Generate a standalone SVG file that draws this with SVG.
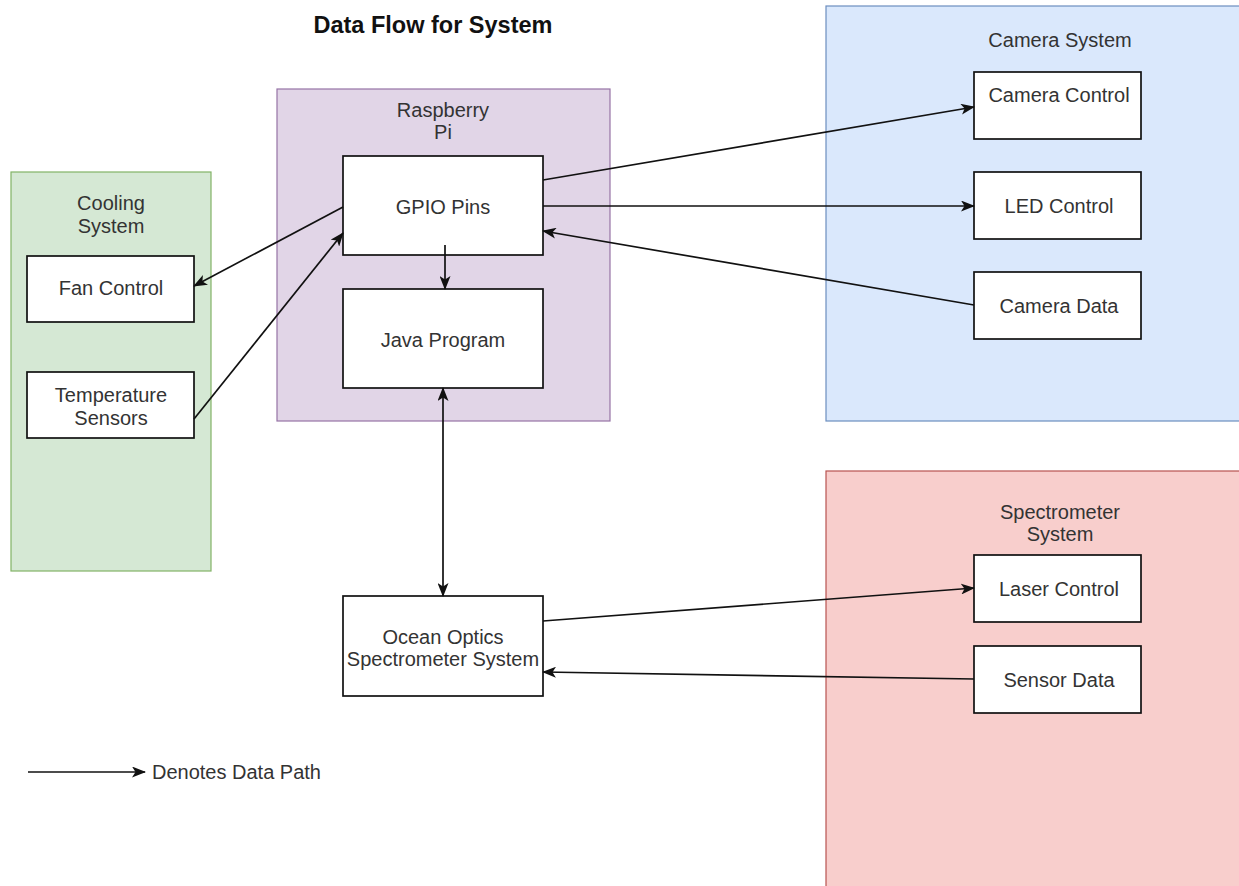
<svg xmlns="http://www.w3.org/2000/svg" width="1239" height="886" viewBox="0 0 1239 886">
<style>
text{font-family:"Liberation Sans",Arial,sans-serif;font-size:20px;fill:#333;text-anchor:middle}
.title{font-weight:bold;font-size:23.5px;fill:#111}
.box{fill:#fff;stroke:#111;stroke-width:1.7}
.line{fill:none;stroke:#111;stroke-width:1.7}
</style>
<defs>
<marker id="ah" viewBox="0 0 14 11" refX="13" refY="5.5" markerWidth="14" markerHeight="11" markerUnits="userSpaceOnUse" orient="auto-start-reverse">
<path d="M0,0 L14,5.5 L0,11 L3.5,5.5 Z" fill="#111"/>
</marker>
</defs>
<rect width="1239" height="886" fill="#fff"/>
<text class="title" x="433" y="33">Data Flow for System</text>

<g id="raspberry-pi">
<rect x="277" y="89" width="333" height="332" fill="#e1d5e7" stroke="#9673a6" stroke-width="1.2"/>
<text x="443" y="117">Raspberry</text>
<text x="443" y="139">Pi</text>
</g>
<g id="cooling-system">
<rect x="11" y="172" width="200" height="399" fill="#d5e8d4" stroke="#82b366" stroke-width="1.2"/>
<text x="111" y="210">Cooling</text>
<text x="111" y="233">System</text>
</g>
<g id="camera-system">
<rect x="826" y="6" width="420" height="415" fill="#dae8fc" stroke="#6c8ebf" stroke-width="1.2"/>
<text x="1060" y="47">Camera System</text>
</g>
<g id="spectrometer-system">
<rect x="826" y="471" width="420" height="420" fill="#f8cecc" stroke="#b85450" stroke-width="1.2"/>
<text x="1060" y="519">Spectrometer</text>
<text x="1060" y="541">System</text>
</g>

<g id="gpio-pins"><rect class="box" x="343" y="156" width="200" height="99"/><text x="443" y="214">GPIO Pins</text></g>
<g id="java-program"><rect class="box" x="343" y="289" width="200" height="99"/><text x="443" y="347">Java Program</text></g>
<g id="fan-control"><rect class="box" x="27" y="256" width="167" height="66"/><text x="111" y="295">Fan Control</text></g>
<g id="temperature-sensors"><rect class="box" x="27" y="372" width="167" height="66"/><text x="111" y="402">Temperature</text><text x="111" y="425">Sensors</text></g>
<g id="camera-control"><rect class="box" x="974" y="72" width="167" height="67"/><text x="1059" y="102">Camera Control</text></g>
<g id="led-control"><rect class="box" x="974" y="172" width="167" height="67"/><text x="1059" y="213">LED Control</text></g>
<g id="camera-data"><rect class="box" x="974" y="272" width="167" height="67"/><text x="1059" y="313">Camera Data</text></g>
<g id="laser-control"><rect class="box" x="974" y="555" width="167" height="67"/><text x="1059" y="596">Laser Control</text></g>
<g id="sensor-data"><rect class="box" x="974" y="646" width="167" height="67"/><text x="1059" y="687">Sensor Data</text></g>
<g id="ocean-optics"><rect class="box" x="343" y="596" width="200" height="100"/><text x="443" y="644">Ocean Optics</text><text x="443" y="666">Spectrometer System</text></g>

<g id="connectors">
<line class="line" x1="543" y1="180" x2="974" y2="107" marker-end="url(#ah)"/>
<line class="line" x1="543" y1="206" x2="974" y2="206" marker-end="url(#ah)"/>
<line class="line" x1="974" y1="305" x2="543" y2="231" marker-end="url(#ah)"/>
<line class="line" x1="343" y1="207" x2="194" y2="286" marker-end="url(#ah)"/>
<line class="line" x1="194" y1="419" x2="343" y2="233" marker-end="url(#ah)"/>
<line class="line" x1="445" y1="245" x2="445" y2="289" marker-end="url(#ah)"/>
<line class="line" x1="443" y1="388" x2="443" y2="596" marker-start="url(#ah)" marker-end="url(#ah)"/>
<line class="line" x1="543" y1="621" x2="974" y2="588" marker-end="url(#ah)"/>
<line class="line" x1="974" y1="679" x2="543" y2="672" marker-end="url(#ah)"/>
<line class="line" x1="28" y1="772" x2="145" y2="772" marker-end="url(#ah)"/>
</g>
<text x="152" y="779" style="text-anchor:start">Denotes Data Path</text>
</svg>
